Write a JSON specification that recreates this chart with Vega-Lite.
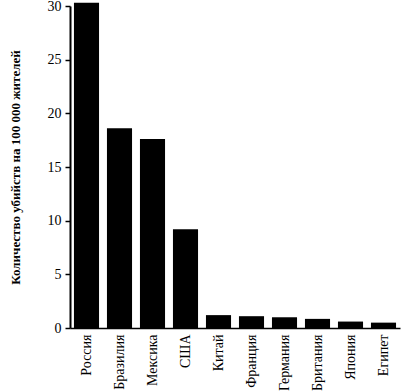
{
  "$schema": "https://vega.github.io/schema/vega-lite/v6.json",
  "autosize": "none",
  "width": 330,
  "height": 322,
  "padding": {"left": 70, "top": 6, "right": 1, "bottom": 63},
  "background": "white",
  "data": {"values": [
    {"country": "Россия", "rate": 30.3},
    {"country": "Бразилия", "rate": 18.6},
    {"country": "Мексика", "rate": 17.6},
    {"country": "США", "rate": 9.2},
    {"country": "Китай", "rate": 1.2},
    {"country": "Франция", "rate": 1.1},
    {"country": "Германия", "rate": 1.0},
    {"country": "Британия", "rate": 0.85},
    {"country": "Япония", "rate": 0.6},
    {"country": "Египет", "rate": 0.5}
  ]},
  "mark": {"type": "bar", "color": "black", "clip": false},
  "encoding": {
    "x": {
      "field": "country", "type": "nominal", "sort": null,
      "scale": {"paddingInner": 0.24, "paddingOuter": 0.12},
      "axis": {
        "title": null, "labelAngle": -90, "labelAlign": "right", "labelBaseline": "middle",
        "labelFont": "Liberation Serif", "labelFontSize": 14, "labelColor": "black",
        "labelPadding": 6, "ticks": false, "domainColor": "black", "domainWidth": 1.5
      }
    },
    "y": {
      "field": "rate", "type": "quantitative",
      "scale": {"domain": [0, 30], "nice": false},
      "axis": {
        "values": [0, 5, 10, 15, 20, 25, 30],
        "title": "Количество убийств на 100 000 жителей",
        "titleFont": "Liberation Serif", "titleFontSize": 13, "titleFontWeight": "bold",
        "titleColor": "black", "titleX": -48, "titleBaseline": "bottom",
        "labelFont": "Liberation Serif", "labelFontSize": 14, "labelColor": "black",
        "labelPadding": 4, "tickSize": 5, "tickColor": "black", "tickWidth": 1.5,
        "domainColor": "black", "domainWidth": 2, "grid": false
      }
    }
  },
  "config": {"view": {"stroke": null}}
}
